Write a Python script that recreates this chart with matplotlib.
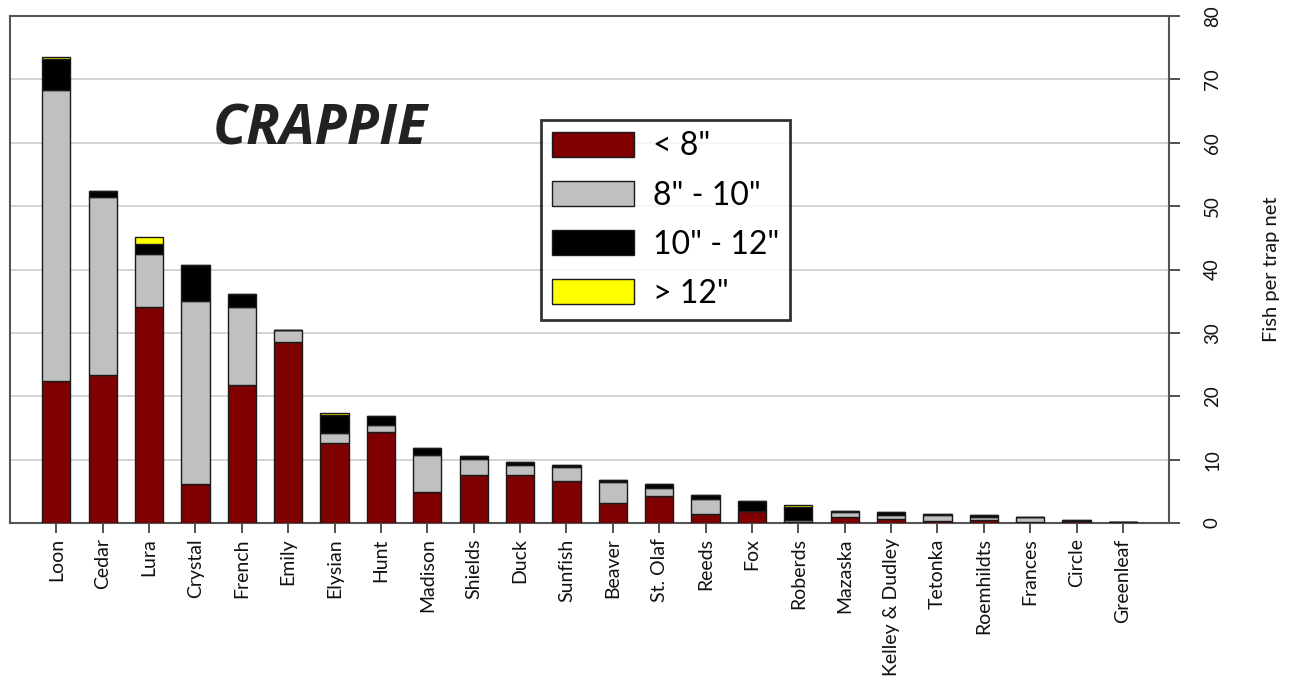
import numpy as np
import matplotlib.pyplot as plt
import matplotlib as mpl

# Lakes and catch per trap net by length class
lakes = ["Loon", "Cedar", "Lura", "Crystal", "French", "Emily", "Elysian", "Hunt",
         "Madison", "Shields", "Duck", "Sunfish", "Beaver", "St. Olaf", "Reeds", "Fox",
         "Roberds", "Mazaska", "Kelley & Dudley", "Tetonka", "Roemhildts", "Frances",
         "Circle", "Greenleaf"]
under8 = [22.4, 23.4, 34.1, 6.1, 21.8, 28.6, 12.7, 14.3, 4.9, 7.6, 7.6, 6.7,
          3.2, 4.3, 1.5, 1.95, 0.1, 0.9, 0.6, 0.3, 0.4, 0.1, 0.3, 0.1]
from8to10 = [45.9, 28.0, 8.3, 29.0, 12.3, 1.8, 1.5, 1.2, 5.8, 2.5, 1.5, 2.1,
             3.3, 1.3, 2.3, 0.0, 0.4, 0.8, 0.7, 1.0, 0.6, 0.8, 0.0, 0.0]
from10to12 = [4.9, 1.0, 1.6, 5.6, 2.0, 0.0, 2.9, 1.4, 1.2, 0.5, 0.5, 0.3,
              0.3, 0.6, 0.7, 1.55, 2.0, 0.25, 0.45, 0.2, 0.2, 0.1, 0.1, 0.1]
over12 = [0.4, 0.0, 1.2, 0.0, 0.1, 0.0, 0.3, 0.0, 0.0, 0.0, 0.0, 0.0,
          0.0, 0.0, 0.0, 0.0, 0.3, 0.0, 0.0, 0.0, 0.0, 0.0, 0.0, 0.0]

series = [("< 8\"", under8, "#7f0000"),
          ("8\" - 10\"", from8to10, "#c0c0c0"),
          ("10\" - 12\"", from10to12, "#000000"),
          ("> 12\"", over12, "#ffff00")]

mpl.rcParams['font.family'] = ['Lato', 'DejaVu Sans']

fig = plt.figure(figsize=(12.91, 6.79), dpi=100)
ax = fig.add_axes([0.0077, 0.2297, 0.898, 0.7467])

x = np.arange(len(lakes))
bottom = np.zeros(len(lakes))
for name, vals, col in series:
    vals = np.array(vals)
    ax.bar(x, vals, 0.61, bottom=bottom, color=col, edgecolor="#1a1a1a",
           linewidth=1.0, label=name, zorder=3)
    bottom += vals

ax.set_xlim(-1, 24)
ax.set_ylim(0, 80)
ax.set_yticks(range(0, 81, 10))
ax.yaxis.tick_right()
ax.yaxis.set_label_position("right")
ax.grid(axis="y", color="#d0d0d0", linewidth=1.3, zorder=0)
ax.tick_params(axis="y", direction="out", length=8, width=1.2, colors="#333333",
               labelcolor="#111111", labelsize=13.5, labelrotation=90, pad=17)
for lbl in ax.get_yticklabels():
    lbl.set_va("center")
ax.set_ylabel("Fish per trap net", fontsize=14.5, labelpad=30, color="#111111")

ax.set_xticks(x)
ax.set_xticklabels(lakes, rotation=90, fontsize=14, color="#111111")
ax.tick_params(axis="x", direction="out", length=7, width=1.2, colors="#333333",
               labelcolor="#111111", pad=4)

for side in ["left", "top", "right", "bottom"]:
    ax.spines[side].set_color("#555555")
    ax.spines[side].set_linewidth(1.5)

ax.text(0.268, 0.775, "CRAPPIE", transform=ax.transAxes, fontsize=40,
        fontweight="bold", fontstyle="italic", color="#222222",
        ha="center", va="center", family=["Open Sans", "DejaVu Sans"])

leg = ax.legend(loc="upper left", bbox_to_anchor=(0.419, 0.823),
                bbox_transform=fig.transFigure, fontsize=23, frameon=True,
                fancybox=False, edgecolor="#000000", handlelength=2.56,
                handleheight=0.84, labelspacing=0.6, borderpad=0.35,
                handletextpad=0.6, borderaxespad=0)
leg.get_frame().set_linewidth(2.0)

fig.savefig("out.png", dpi=100)
